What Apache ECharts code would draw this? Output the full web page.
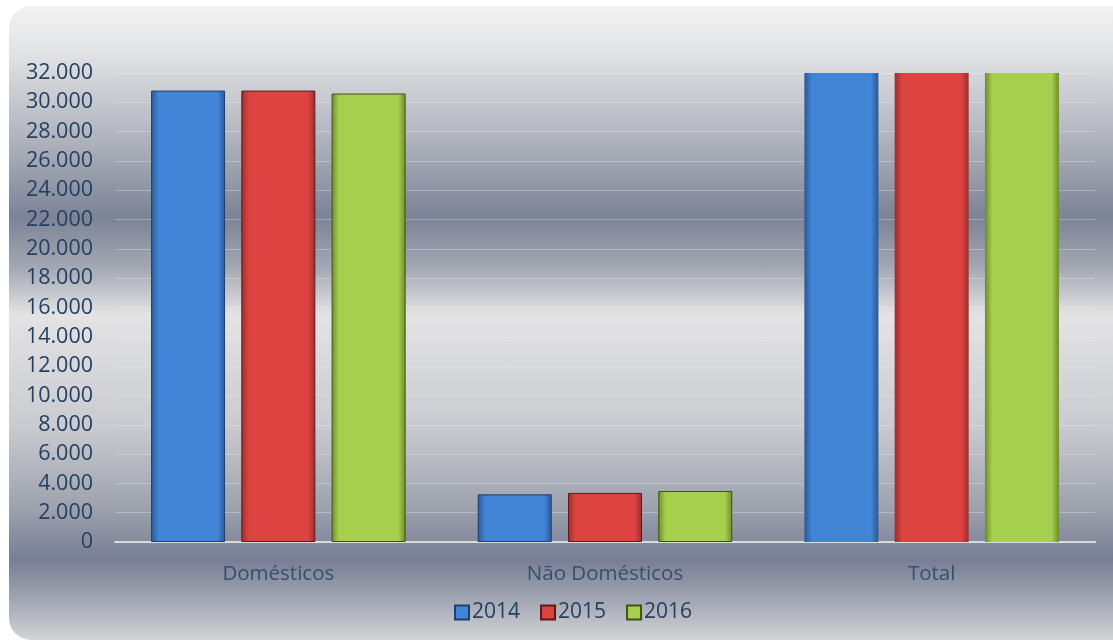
<!DOCTYPE html>
<html>
<head>
<meta charset="utf-8">
<script src="https://cdn.jsdelivr.net/npm/echarts@6/dist/echarts.min.js"></script>
<style>
html,body{margin:0;padding:0;background:#ffffff;}
#wrap{position:relative;width:1113px;height:641px;overflow:hidden;background:#fff;}
#bg{position:absolute;left:9px;top:6px;width:1130px;height:634px;border-radius:22px;
background:linear-gradient(to bottom,#f2f2f2 0px,#e3e4e6 44px,#a9adb8 144px,#7c8396 211px,#a3a8b3 262px,#e3e3e4 309px,#c9cbd0 420px,#9ea3ae 500px,#787e94 554px,#a9adb8 600px,#d3d4d7 634px);}
#chart{position:absolute;left:0;top:0;width:1113px;height:641px;}
</style>
</head>
<body>
<div id="wrap"><div id="bg"></div><div id="chart"></div></div>
<script>
const categories = ['Domésticos', 'Não Domésticos', 'Total'];
const seriesNames = ['2014', '2015', '2016'];
const values2014 = [30800, 3250, 34050];
const values2015 = [30800, 3350, 34150];
const values2016 = [30600, 3480, 34080];
const yMin = 0, yMax = 32000, yStep = 2000;

const palette = [
  {edge:'#2a5894', mid:'#4284d6', border:'#1f3f6e'},
  {edge:'#9c2e2c', mid:'#dc4341', border:'#5e1a19'},
  {edge:'#6e8c2a', mid:'#a6cf4e', border:'#3f5214'}
];
function fill(p){
  return new echarts.graphic.LinearGradient(0,0,1,0,[
    {offset:0,color:p.edge},{offset:0.1,color:p.mid},{offset:0.5,color:p.mid},
    {offset:0.9,color:p.mid},{offset:1,color:p.edge}]);
}
function fmt(v){ return String(v).replace(/\B(?=(\d{3})+(?!\d))/g,'.'); }

const data = [values2014, values2015, values2016];
const chart = echarts.init(document.getElementById('chart'), null, {renderer:'canvas'});
const textColor = '#243f60';
chart.setOption({
  backgroundColor: 'transparent',
  animation: false,
  grid: {left:115, right:18, top:73, bottom:99, containLabel:false},
  legend: {
    top: 597, left: 449,
    itemWidth: 14, itemHeight: 14, itemGap: 20,
    icon: 'rect',
    textStyle: {color:textColor, fontSize:21, fontFamily:'Open Sans', padding:[0,0,0,-2]},
    data: seriesNames
  },
  xAxis: {
    type:'category', data: categories,
    axisLine:{lineStyle:{color:'#dadbdd', width:2}},
    axisTick:{show:false},
    axisLabel:{color:'#34506f', fontSize:20.5, fontFamily:'Open Sans', margin:22}
  },
  yAxis: {
    type:'value', min:yMin, max:yMax, interval:yStep,
    axisLine:{show:false}, axisTick:{show:false},
    splitLine:{lineStyle:{color:'rgba(255,255,255,0.28)', width:1}},
    axisLabel:{color:textColor, fontSize:21.5, fontFamily:'Open Sans', margin:22, formatter:fmt}
  },
  series: seriesNames.map((n,i)=>({
    name:n, type:'bar', clip:true,
    data:data[i].map((v,j)=> j===2 ? {value:v, itemStyle:{borderWidth:0}} : v),
    barWidth: 74, barGap:'22%', barCategoryGap:'22%',
    itemStyle:{color:fill(palette[i]), borderColor:palette[i].border, borderWidth:1}
  }))
});
</script>
</body>
</html>
